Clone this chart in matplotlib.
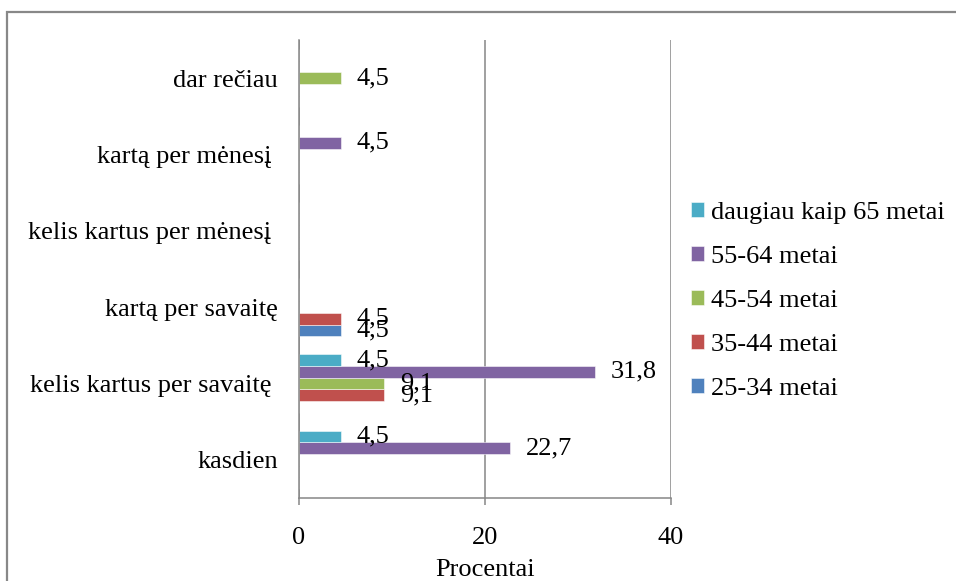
import matplotlib.pyplot as plt
from matplotlib.patches import Rectangle
import numpy as np

plt.rcParams['font.family'] = ['Liberation Serif', 'DejaVu Serif']

categories = ["kasdien", "kelis kartus per savaitę ", "kartą per savaitę",
              "kelis kartus per mėnesį ", "kartą per mėnesį ", "dar rečiau"]
series_names = ["25-34 metai", "35-44 metai", "45-54 metai",
                "55-64 metai", "daugiau kaip 65 metai"]
values_25_34 = [0, 0, 4.5, 0, 0, 0]
values_35_44 = [0, 9.1, 4.5, 0, 0, 0]
values_45_54 = [0, 9.1, 0, 0, 0, 4.5]
values_55_64 = [22.7, 31.8, 0, 0, 4.5, 0]
values_65_plus = [4.5, 4.5, 0, 0, 0, 0]
series_values = [values_25_34, values_35_44, values_45_54, values_55_64, values_65_plus]
colors = ["#4F81BD", "#C0504D", "#9BBB59", "#8064A2", "#4BACC6"]
x_ticks = [0, 20, 40]
x_label = "Procentai"

FS = 19
GRAY = "#868686"

fig = plt.figure(figsize=(9.56, 5.81), dpi=100)
ax = fig.add_axes([299 / 956, 1 - 498 / 581, 372 / 956, 458 / 581])

y = np.arange(len(categories))
h = 0.1533
for i, (name, vals, c) in enumerate(zip(series_names, series_values, colors)):
    pos = y + (i - 2) * h
    ax.barh(pos, vals, height=h, color=c, edgecolor=(1, 1, 1, 0.6),
            linewidth=0.6, label=name)
    for yy, v in zip(pos, vals):
        if v > 0:
            ax.annotate(f"{v:.1f}".replace(".", ","), xy=(v, yy),
                        xytext=(16, 0), textcoords="offset pixels",
                        ha="left", va="center", fontsize=FS, color="black")

ax.set_xlim(0, 40)
ax.set_ylim(-0.5, len(categories) - 0.5)
ax.set_xticks(x_ticks)
ax.set_xticklabels([str(t) for t in x_ticks], fontsize=FS)
ax.set_yticks(y)
ax.set_yticklabels(categories, fontsize=FS)
ax.tick_params(axis="y", length=0, pad=15)
ax.tick_params(axis="x", length=5, width=1.1, color=GRAY, pad=16)
ax.set_xlabel(x_label, fontsize=FS, labelpad=7)

for s in ["top", "right"]:
    ax.spines[s].set_visible(False)
for s in ["left", "bottom"]:
    ax.spines[s].set_color(GRAY)
    ax.spines[s].set_linewidth(1.1)
ax.xaxis.grid(True, color=GRAY, linewidth=1.1)
ax.set_axisbelow(True)

handles, labels = ax.get_legend_handles_labels()
leg = fig.legend(handles[::-1], labels[::-1], loc="center left",
                 bbox_to_anchor=(691 / 956, 1 - 301 / 581), frameon=False,
                 fontsize=FS, handlelength=0.5, handleheight=0.5,
                 handletextpad=0.25, labelspacing=0.84, borderaxespad=0,
                 borderpad=0)

# outer chart border
fig.patches.append(Rectangle((7 / 956, -0.05), 1.1, 1 - 12 / 581 + 0.05,
                             transform=fig.transFigure, fill=False,
                             edgecolor="#888888", linewidth=1.6))

fig.savefig("out.png", dpi=100)
